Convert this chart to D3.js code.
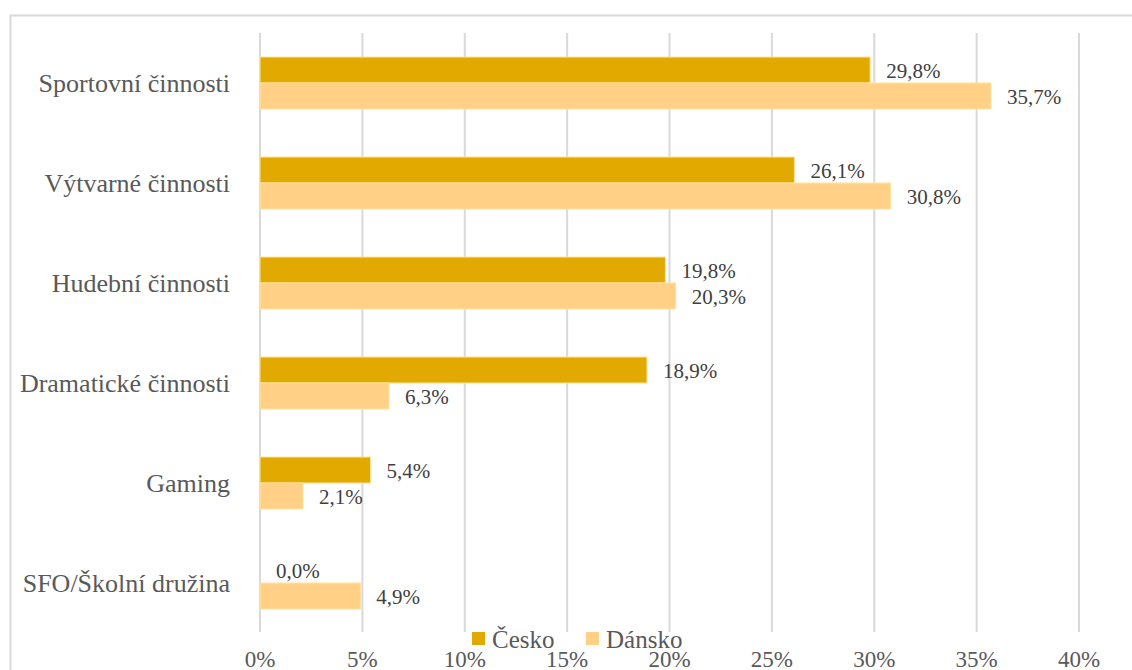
<!DOCTYPE html>
<html>
<head>
<meta charset="utf-8">
<script src="https://cdn.jsdelivr.net/npm/d3@7"></script>
<style>
  body { margin: 0; background: #fff; }
</style>
</head>
<body>
<svg id="chart" width="1132" height="670"></svg>
<script>
// data
const categories = ['Sportovní činnosti', 'Výtvarné činnosti', 'Hudební činnosti',
                    'Dramatické činnosti', 'Gaming', 'SFO/Školní družina'];
const cesko  = [29.8, 26.1, 19.8, 18.9, 5.4, 0.0];
const dansko = [35.7, 30.8, 20.3, 6.3, 2.1, 4.9];
const seriesNames = ['Česko', 'Dánsko'];
const tickValues = [0, 5, 10, 15, 20, 25, 30, 35, 40];

const colors = ['#E2AA00', '#FFD086'];
const serif = 'Liberation Serif';

let svg = d3.select('#chart');

// outer frame (only top + left visible in the crop)
svg.append('rect')
  .attr('x', 10.5).attr('y', 15.5)
  .attr('width', 1200).attr('height', 700)
  .attr('fill', 'none')
  .attr('stroke', '#D9D9D9')
  .attr('stroke-width', 2);

let x = d3.scaleLinear().domain([0, 40]).range([260, 1079]);

let y = d3.scaleBand()
  .domain(categories)
  .range([33, 633])
  .paddingInner(0.48)
  .paddingOuter(0.24);

let inner = d3.scaleBand()
  .domain(seriesNames)
  .range([0, y.bandwidth()]);

// gridlines
svg.append('g')
  .selectAll('line')
  .data(tickValues)
  .enter()
  .append('line')
  .attr('x1', d => x(d)).attr('x2', d => x(d))
  .attr('y1', 33).attr('y2', 632)
  .attr('stroke', '#D9D9D9')
  .attr('stroke-width', 2);

// tick labels
svg.append('g')
  .selectAll('text')
  .data(tickValues)
  .enter()
  .append('text')
  .attr('x', d => x(d))
  .attr('y', 667)
  .attr('text-anchor', 'middle')
  .attr('font-family', serif)
  .attr('font-size', 23)
  .attr('fill', '#595959')
  .text(d => d + '%');

// category labels
svg.append('g')
  .selectAll('text')
  .data(categories)
  .enter()
  .append('text')
  .attr('x', 230)
  .attr('y', d => y(d) + y.bandwidth() / 2 + 9)
  .attr('text-anchor', 'end')
  .attr('font-family', serif)
  .attr('font-size', 26)
  .attr('fill', '#595959')
  .text(d => d);

let series = [cesko, dansko];
let fmt = v => v.toFixed(1).replace('.', ',') + '%';

series.forEach(function(vals, s) {
  let g = svg.append('g');
  g.selectAll('rect')
    .data(vals)
    .enter()
    .append('rect')
    .attr('x', x(0))
    .attr('y', (d, i) => y(categories[i]) + inner(seriesNames[s]))
    .attr('width', d => x(d) - x(0))
    .attr('height', inner.bandwidth())
    .attr('fill', colors[s])
    .attr('stroke', d => d > 0 ? '#FFE39B' : 'none')
    .attr('stroke-width', 1);

  g.selectAll('text')
    .data(vals)
    .enter()
    .append('text')
    .attr('x', d => x(d) + 16)
    .attr('y', (d, i) => y(categories[i]) + inner(seriesNames[s]) + inner.bandwidth() / 2 + 7.5)
    .attr('font-family', serif)
    .attr('font-size', 21)
    .attr('fill', '#404040')
    .text(d => fmt(d));
});

// legend
let legendX = [472, 586];
let legend = svg.append('g');
seriesNames.forEach(function(name, s) {
  legend.append('rect')
    .attr('x', legendX[s]).attr('y', 632)
    .attr('width', 13).attr('height', 13)
    .attr('fill', colors[s]);
  legend.append('text')
    .attr('x', legendX[s] + 20)
    .attr('y', 648)
    .attr('font-family', serif)
    .attr('font-size', 25)
    .attr('fill', '#595959')
    .text(name);
});
</script>
</body>
</html>
